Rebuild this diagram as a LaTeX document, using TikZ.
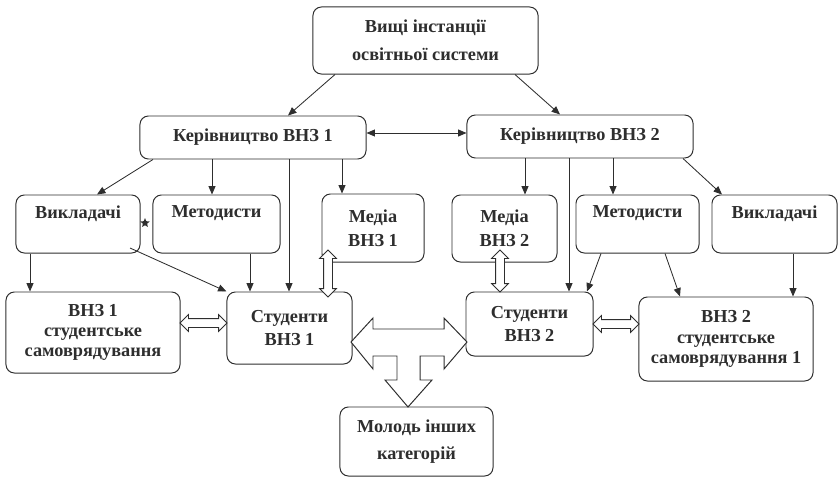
\documentclass[tikz,border=0pt]{standalone}
\usepackage{fontspec}
\setmainfont{Liberation Serif}
\usetikzlibrary{arrows.meta,shapes.arrows,shapes.geometric}
\definecolor{ink}{HTML}{2E2E2E}

\begin{document}
\begin{tikzpicture}[x=0.025cm, y=-0.025cm,
    box/.style={draw=ink, line width=0.7pt, rounded corners=6pt, align=center, text=ink,
                inner sep=1pt, font=\bfseries\fontsize{13}{17}\selectfont},
    arr/.style={draw=ink, line width=0.6pt, -{Triangle[length=6pt,width=5pt]}},
    hollow/.style={double arrow, draw=ink, line width=0.6pt, fill=white, inner xsep=0pt,
                   inner ysep=0.1cm, double arrow head extend=0.1cm}]
    \useasboundingbox (0,0) rectangle (839,479);

    % boxes
    \node[box, minimum width=5.625cm, minimum height=1.675cm, font=\bfseries\fontsize{13}{20}\selectfont]
        (vyshchi) at (425.5,40.5) {Вищі інстанції\\освітньої системи};
    \node[box, minimum width=5.65cm, minimum height=1.075cm] (ker1) at (253,137.5) {Керівництво ВНЗ 1};
    \node[box, minimum width=5.65cm, minimum height=1.075cm] (ker2) at (580,136.5) {Керівництво ВНЗ 2};
    \node[box, minimum width=3.1cm, minimum height=1.45cm] (vykl1) at (78,224) {Викладачі\\[-5pt]\strut};
    \node[box, minimum width=3.175cm, minimum height=1.45cm] (metod1) at (216.5,224) {Методисти\\[-5pt]\strut};
    \node[box, minimum width=2.55cm, minimum height=1.7cm] (media1) at (373,228) {Медіа\\ВНЗ 1};
    \node[box, minimum width=2.625cm, minimum height=1.675cm] (media2) at (504.5,228.5) {Медіа\\ВНЗ 2};
    \node[box, minimum width=3.075cm, minimum height=1.45cm] (metod2) at (637.5,224) {Методисти\\[-5pt]\strut};
    \node[box, minimum width=3.125cm, minimum height=1.45cm] (vykl2) at (774.5,224) {Викладачі\\[-5pt]\strut};
    \node[box, minimum width=4.35cm, minimum height=2.025cm, font=\bfseries\fontsize{13}{14.5}\selectfont]
        (samovr1) at (93,332.5) {ВНЗ 1\\студентське\\самоврядування};
    \node[box, minimum width=3.125cm, minimum height=1.8cm] (stud1) at (289.5,328) {Студенти\\ВНЗ 1};
    \node[box, minimum width=3.175cm, minimum height=1.6cm] (stud2) at (529.5,324) {Студенти\\ВНЗ 2};
    \node[box, minimum width=4.35cm, minimum height=2.1cm, font=\bfseries\fontsize{13}{14.5}\selectfont]
        (samovr2) at (726,339) {ВНЗ 2\\студентське\\самоврядування 1};
    \node[box, minimum width=3.825cm, minimum height=1.725cm, font=\bfseries\fontsize{13}{19}\selectfont]
        (molod) at (416.5,441.5) {Молодь інших\\категорій};
    \node[star, star points=5, star point ratio=2.2, fill=ink, inner sep=0pt, minimum size=7pt] (zirka) at (145,223) {};

    % arrows from the top
    \draw[arr] (vyshchi.south -| 335,0) -- (ker1.north -| 288,0);
    \draw[arr] (vyshchi.south -| 515,0) -- (ker2.north -| 560,0);
    \draw[draw=ink, line width=0.6pt, {Triangle[length=6pt,width=5pt]}-{Triangle[length=6pt,width=5pt]}]
        (ker1.east |- 0,133) -- (ker2.west |- 0,133);

    % ВНЗ 1
    \draw[arr] (ker1.south -| 153,0) -- (vykl1.north -| 97,0);
    \draw[arr] (ker1.south -| 212,0) -- (metod1.north -| 212,0);
    \draw[arr] (ker1.south -| 289,0) -- (stud1.north -| 289,0);
    \draw[arr] (ker1.south -| 342,0) -- (media1.north -| 342,0);
    \draw[arr] (vykl1.south -| 30,0) -- (samovr1.north -| 30,0);
    \draw[arr] (130,248) -- (stud1.north west);
    \draw[arr] (metod1.south -| 250,0) -- (stud1.north -| 250,0);

    % ВНЗ 2
    \draw[arr] (ker2.south -| 525,0) -- (media2.north -| 525,0);
    \draw[arr] (ker2.south -| 569,0) -- (stud2.north -| 569,0);
    \draw[arr] (ker2.south -| 613,0) -- (metod2.north -| 613,0);
    \draw[arr] (ker2.south -| 683,0) -- (vykl2.north -| 722,0);
    \draw[arr] (metod2.south -| 601,0) -- (stud2.north -| 587,0);
    \draw[arr] (metod2.south -| 665,0) -- (samovr2.north -| 680,0);
    \draw[arr] (vykl2.south -| 793,0) -- (samovr2.north -| 793,0);

    % hollow arrows
    \node[hollow, minimum height=1.175cm, rotate=90] (m1s1) at (328,273.5) {};
    \node[hollow, minimum height=1.175cm] (s1s1) at (203.5,323) {};
    \node[hollow, minimum height=1.05cm, rotate=90] (m2s2) at (500,271) {};
    \node[hollow, minimum height=1.15cm] (s2s2) at (616,324) {};

    % big arrow between the students
    \draw[ink, line width=0.7pt, fill=white] (351,342) -- (373,318) -- (373,329) -- (444,329)
        -- (444,318) -- (467,342) -- (444,369) -- (444,356) -- (420,356) -- (420,380)
        -- (432,380) -- (408,407) -- (385,380) -- (397,380) -- (397,356) -- (373,356)
        -- (373,369) -- cycle;
\end{tikzpicture}
\end{document}
